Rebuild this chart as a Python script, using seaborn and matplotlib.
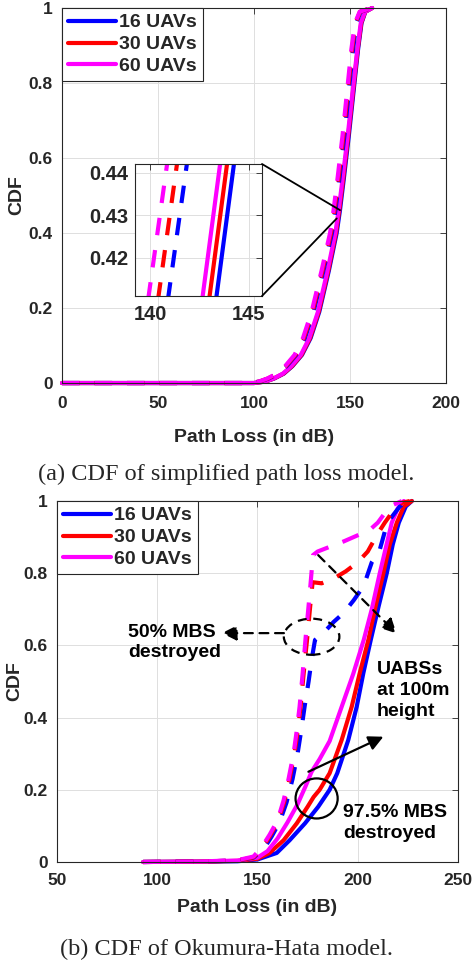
import matplotlib
matplotlib.use("Agg")
import matplotlib.pyplot as plt
import seaborn as sns
from matplotlib.patches import Ellipse, ConnectionPatch

sns.set_style("white")
plt.rcParams["font.family"] = ["Liberation Sans", "DejaVu Sans"]

# ---------------- data ----------------
series_labels = ["16 UAVs", "30 UAVs", "60 UAVs"]
series_colors = ["#0000ff", "#ff0000", "#ff00ff"]

# (a) simplified path loss model: CDF levels shared by all curves
top_cdf = [0, 0, 0.004, 0.012, 0.025, 0.045, 0.075, 0.12, 0.19, 0.30, 0.40,
           0.43, 0.46, 0.55, 0.66, 0.78, 0.89, 0.96, 0.99, 1.0]
top_16_solid = [0, 100, 106, 110.5, 115.5, 120, 125, 129.5, 134, 139, 143.05,
                143.9, 144.75, 146.9, 149.4, 151.9, 154.2, 156, 158, 161.5]
top_30_solid = [0, 100, 105.9, 110.3, 115.3, 119.8, 124.75, 129.2, 133.7, 138.7, 142.7,
                143.55, 144.4, 146.6, 149.1, 151.65, 154.0, 155.85, 157.9, 161.5]
top_60_solid = [0, 100, 105.7, 110.1, 115, 119.4, 124.35, 128.8, 133.3, 138.3, 142.35,
                143.2, 144.05, 146.25, 148.8, 151.4, 153.8, 155.6, 157.8, 161.5]
top_16_dash = [0, 98, 103, 107.5, 112.5, 117, 122, 126.5, 131, 136.2, 140.6,
               141.5, 142.4, 144.6, 147.1, 149.4, 151.6, 153.3, 155.5, 161]
top_30_dash = [0, 98, 102.8, 107.2, 112.2, 116.6, 121.6, 126, 130.5, 135.7, 140.1,
               141.0, 141.9, 144.1, 146.6, 148.9, 151.1, 152.9, 155.2, 161]
top_60_dash = [0, 98, 102.6, 106.9, 111.8, 116.2, 121.1, 125.5, 130, 135.2, 139.6,
               140.5, 141.4, 143.6, 146.1, 148.5, 150.7, 152.6, 155, 161]

# (b) Okumura-Hata model
bot_16_solid_x = [93, 120, 140, 150, 159.6, 166, 173.7, 180.3, 186, 189.8, 195.3, 199.5,
                  202.8, 206.5, 210.5, 214.5, 217.5, 220.5, 224, 227]
bot_16_solid_y = [0, 0.001, 0.002, 0.007, 0.025, 0.06, 0.107, 0.153, 0.2, 0.246, 0.338, 0.43,
                  0.523, 0.615, 0.71, 0.80, 0.88, 0.94, 0.985, 1.0]
bot_30_solid_x = [93, 120, 140, 150, 156, 163, 169.6, 175, 178, 181, 186, 192, 197,
                  201, 205.3, 209, 212.8, 216, 219.5, 223, 227]
bot_30_solid_y = [0, 0.001, 0.003, 0.009, 0.025, 0.06, 0.107, 0.153, 0.18, 0.20, 0.246, 0.338, 0.43,
                  0.523, 0.615, 0.71, 0.80, 0.88, 0.94, 0.985, 1.0]
bot_60_solid_x = [93, 120, 140, 150, 155, 160, 165, 170, 174, 177, 181, 186, 192, 197.7,
                  203, 207, 211, 214, 217, 220, 223]
bot_60_solid_y = [0, 0.001, 0.004, 0.012, 0.03, 0.065, 0.11, 0.16, 0.21, 0.25, 0.285, 0.335, 0.43,
                  0.52, 0.615, 0.70, 0.80, 0.87, 0.94, 0.98, 1.0]
bot_16_dash_x = [93, 120, 140, 148, 153, 157, 161, 164.5, 167.5, 170, 171.7, 173.5, 175.5, 177,
                 178.7, 183, 188, 193, 198, 203, 207, 211, 214, 217, 221, 225]
bot_16_dash_y = [0, 0.001, 0.004, 0.012, 0.035, 0.07, 0.11, 0.165, 0.23, 0.3, 0.36, 0.43, 0.5, 0.56,
                 0.615, 0.635, 0.665, 0.69, 0.725, 0.765, 0.83, 0.865, 0.925, 0.956, 0.985, 1.0]
bot_30_dash_x = [93, 120, 140, 148, 152, 156, 160, 163.3, 166, 168.4, 170, 171.5, 173, 174.8,
                 176.5, 177.5, 182, 188, 194, 200, 205, 209.5, 213.5, 218, 222, 226]
bot_30_dash_y = [0, 0.001, 0.004, 0.013, 0.035, 0.07, 0.11, 0.165, 0.23, 0.3, 0.36, 0.43, 0.52, 0.62,
                 0.72, 0.775, 0.772, 0.785, 0.805, 0.83, 0.86, 0.905, 0.94, 0.975, 0.995, 1.0]
bot_60_dash_x = [93, 120, 140, 148, 152, 156, 160, 163, 165.5, 168, 169.5, 171, 172.5, 174,
                 176, 177.7, 180, 186, 193, 200, 206, 210, 214, 218, 222]
bot_60_dash_y = [0, 0.001, 0.005, 0.015, 0.04, 0.075, 0.115, 0.17, 0.23, 0.3, 0.36, 0.43, 0.52, 0.62,
                 0.74, 0.85, 0.86, 0.873, 0.888, 0.905, 0.92, 0.94, 0.97, 0.99, 1.0]

top_xticks = [0, 50, 100, 150, 200]
bot_xticks = [50, 100, 150, 200, 250]
yticks = [0, 0.2, 0.4, 0.6, 0.8, 1.0]
ytick_labels = ["0", "0.2", "0.4", "0.6", "0.8", "1"]
inset_xticks = [140, 145]
inset_yticks = [0.42, 0.43, 0.44]
inset_ytick_labels = ["0.42", "0.43", "0.44"]

AX_C = "#262626"
GRID_C = "#dfdfdf"
LW = 3.0
DASH = (0, (4.2, 3.6))

# ---------------- figure ----------------
fig = plt.figure(figsize=(4.76, 9.67), dpi=100)
fig.patch.set_facecolor("white")
ax1 = fig.add_axes([0.1303, 0.6039, 0.8067, 0.3878])
ax2 = fig.add_axes([0.1197, 0.1086, 0.8424, 0.3733])
axin = fig.add_axes([0.2836, 0.6939, 0.2668, 0.1365])


def style(ax, fs, xpad, ypad):
    for s in ax.spines.values():
        s.set_color(AX_C)
        s.set_linewidth(0.8)
        s.set_visible(True)
    ax.tick_params(direction="in", length=4, width=0.6, colors=AX_C,
                   top=True, right=True, labelsize=fs)
    ax.tick_params(axis="x", pad=xpad)
    ax.tick_params(axis="y", pad=ypad)
    ax.grid(True, color=GRID_C, lw=0.7)
    ax.set_axisbelow(True)
    ax.set_facecolor("white")


def draw(ax, xs, ys, color, dashed=False, label=None, clip=True):
    kw = dict(linestyle=DASH, dash_capstyle="butt") if dashed else dict(solid_capstyle="round")
    sns.lineplot(x=xs, y=ys, ax=ax, color=color, lw=LW, sort=False, estimator=None,
                 label=label, legend=False, clip_on=clip, **kw)


# ----- (a) -----
top_solid = [top_16_solid, top_30_solid, top_60_solid]
top_dash = [top_16_dash, top_30_dash, top_60_dash]
for axx in (ax1, axin):
    main = axx is ax1
    for xs, c, lab in zip(top_solid, series_colors, series_labels):
        draw(axx, xs, top_cdf, c, label=lab if main else None, clip=not main)
    for xs, c in zip(top_dash, series_colors):
        draw(axx, xs, top_cdf, c, dashed=True, clip=not main)

style(ax1, 12.5, 9, 6.5)
ax1.set_xlim(0, 200)
ax1.set_ylim(0, 1)
ax1.set_xticks(top_xticks, [str(t) for t in top_xticks], fontweight="bold")
ax1.set_yticks(yticks, ytick_labels, fontweight="bold")
ax1.set_xlabel("Path Loss (in dB)", fontsize=14, fontweight="bold", color=AX_C, va="center")
ax1.set_ylabel("CDF", fontsize=14, fontweight="bold", color=AX_C, va="center")
ax1.xaxis.set_label_coords(0.5, -0.144)
ax1.yaxis.set_label_coords(-0.118, 0.5)

style(axin, 14.5, 6.6, 5)
axin.set_xlim(139.24, 145.66)
axin.set_ylim(0.411, 0.4421)
axin.set_xticks(inset_xticks, [str(t) for t in inset_xticks], fontweight="bold")
axin.set_yticks(inset_yticks, inset_ytick_labels, fontweight="bold")
axin.set_xlabel("")
axin.set_ylabel("")

for xa, pt in [((1, 1), (144.8, 0.461)), ((1, 0), (143.1, 0.439))]:
    cp = ConnectionPatch(xyA=xa, coordsA=axin.transAxes, xyB=pt, coordsB=ax1.transData,
                         color="black", lw=1.3)
    fig.add_artist(cp)

h, l = ax1.get_legend_handles_labels()
leg_kw = dict(loc="upper left", bbox_to_anchor=(0, 1), borderaxespad=0, frameon=True,
              fancybox=False, edgecolor=AX_C, framealpha=1,
              prop={"weight": "bold", "size": 14}, handlelength=2.5, handletextpad=0.15,
              labelspacing=0.22, borderpad=0.3)
leg1 = ax1.legend(h[:3], l[:3], **leg_kw)
leg1.get_frame().set_linewidth(0.8)
leg1.set_zorder(10)

# ----- (b) -----
bot_solid = [(bot_16_solid_x, bot_16_solid_y), (bot_30_solid_x, bot_30_solid_y),
             (bot_60_solid_x, bot_60_solid_y)]
bot_dash = [(bot_16_dash_x, bot_16_dash_y), (bot_30_dash_x, bot_30_dash_y),
            (bot_60_dash_x, bot_60_dash_y)]
for (xs, ys), c, lab in zip(bot_solid, series_colors, series_labels):
    draw(ax2, xs, ys, c, label=lab, clip=False)
for (xs, ys), c in zip(bot_dash, series_colors):
    draw(ax2, xs, ys, c, dashed=True, clip=False)

style(ax2, 12.5, 8.2, 6.5)
ax2.set_xlim(50, 250)
ax2.set_ylim(0, 1)
ax2.set_xticks(bot_xticks, [str(t) for t in bot_xticks], fontweight="bold")
ax2.set_yticks(yticks, ytick_labels, fontweight="bold")
ax2.set_xlabel("Path Loss (in dB)", fontsize=14, fontweight="bold", color=AX_C, va="center")
ax2.set_ylabel("CDF", fontsize=14, fontweight="bold", color=AX_C, va="center")
ax2.xaxis.set_label_coords(0.5, -0.1274)
ax2.yaxis.set_label_coords(-0.105, 0.5)

h, l = ax2.get_legend_handles_labels()
leg2 = ax2.legend(h[:3], l[:3], **leg_kw)
leg2.get_frame().set_linewidth(0.8)
leg2.set_zorder(10)

# annotations
ax2.add_patch(Ellipse((177, 0.624), 27.7, 0.10, fill=False, ec="black", lw=1.6,
                      linestyle=(0, (4, 3)), zorder=5))
ax2.add_patch(Ellipse((179.5, 0.176), 21, 0.111, fill=False, ec="black", lw=1.6, zorder=5))

akw = dict(arrowstyle="-|>", color="black", lw=1.6, mutation_scale=22, shrinkA=0, shrinkB=0)
ax2.annotate("", xy=(132.2, 0.634), xytext=(163.2, 0.634),
             arrowprops=dict(linestyle=(0, (4, 3)), **akw), zorder=6)
ax2.annotate("", xy=(219.4, 0.633), xytext=(180.3, 0.85),
             arrowprops=dict(linestyle=(0, (4, 3)), **akw), zorder=6)
ax2.annotate("", xy=(212.8, 0.347), xytext=(175.4, 0.25),
             arrowprops=dict(**akw), zorder=6)

tkw = dict(fontsize=14, fontweight="bold", color="black", ha="left", va="center",
           linespacing=1.3, zorder=7)
ax2.text(85.4, 0.608, "50% MBS\ndestroyed", **tkw)
ax2.text(209.5, 0.476, "UABSs\nat 100m\nheight", **tkw)
ax2.text(192.8, 0.107, "97.5% MBS\ndestroyed", **tkw)

# captions
fig.text(0.4748, 1 - 474 / 967, "(a) CDF of simplified path loss model.",
         family=["Liberation Serif", "DejaVu Serif"], fontsize=17.5, ha="center", va="center")
fig.text(0.4748, 1 - 949 / 967, "(b) CDF of Okumura-Hata model.",
         family=["Liberation Serif", "DejaVu Serif"], fontsize=17.5, ha="center", va="center")

fig.savefig("out.png", dpi=100, facecolor="white")
